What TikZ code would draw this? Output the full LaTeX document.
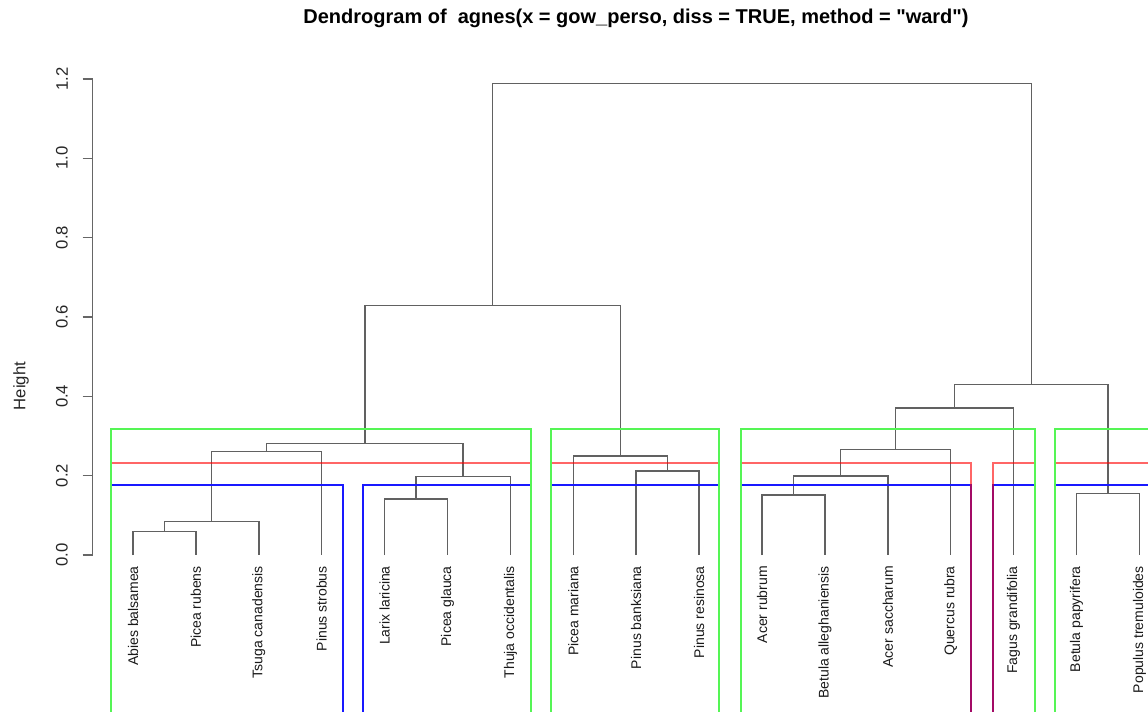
\documentclass[tikz,border=0pt]{standalone}
\usepackage{fontspec}
\setmainfont{Liberation Sans}
% a family without TeX ligatures, so that " stays a straight quote
\newfontfamily\plainsans{Liberation Sans}
% leaf index u -> horizontal position, height h -> vertical position (pixel grid, y downwards)
\newcommand{\lxpos}[1]{70.1+62.9*(#1)}
\newcommand{\hypos}[1]{555-396.7*(#1)}
\newcommand{\treept}[3]{\coordinate (#1) at ({\lxpos{#2}},{\hypos{#3}});}
% cluster rectangle, edges snapped to whole pixels
\newcommand{\cutbox}[4]{%
  \pgfmathsetmacro\cbl{2*round((\lxpos{#2}-1)/2)+1}%
  \pgfmathsetmacro\cbr{2*round((\lxpos{#3}-1)/2)+1}%
  \draw[#1] (\cbl,730) -- (\cbl,#4) -- (\cbr,#4) -- (\cbr,730);}
\definecolor{boxgreen}{RGB}{85,245,85}
\definecolor{boxblue}{RGB}{25,25,255}
\begin{document}
\begin{tikzpicture}[x=0.75pt,y=-0.75pt,
  branch/.style={draw=black!62, line width=1.15pt},
  leaflabel/.style={rotate=90, anchor=east, inner sep=0pt, text=black!90,
    font=\fontsize{10.5}{12}\selectfont},
  ticklabel/.style={rotate=90, anchor=center, inner sep=0pt, text=black!85,
    font=\fontsize{12.5}{14}\selectfont},
  axisline/.style={draw=black!60, line width=1pt},
  greenbox/.style={draw=boxgreen, line width=1.5pt},
  redbox/.style={draw=red, draw opacity=0.6, line width=1.5pt},
  bluebox/.style={draw=boxblue, line width=1.5pt}]
\useasboundingbox[fill=white] (0,0) rectangle (1148,712);

% title
\node[font=\plainsans\fontsize{15}{18}\selectfont\bfseries, inner sep=0pt] (title) at (636,18)
  {Dendrogram of\ \ agnes(x = gow\_perso, diss = TRUE, method = "ward")};

% height axis
\coordinate (ax0) at (92.7,{\hypos{0}});
\coordinate (ax1) at (92.7,{\hypos{1.2}});
\draw[axisline] (ax0) -- (ax1);
\foreach \v/\t in {0/0.0,0.2/0.2,0.4/0.4,0.6/0.6,0.8/0.8,1.0/1.0,1.2/1.2}{
  \draw[axisline] (82.7,{\hypos{\v}}) -- (92.7,{\hypos{\v}});
  \node[ticklabel] at (62,{\hypos{\v}}) {\t};
}
\node[rotate=90, inner sep=0pt, text=black!85, font=\fontsize{12.5}{14}\selectfont] (ylab) at (21,386) {Height};

% leaves
\foreach \i/\name in {1/Abies balsamea,2/Picea rubens,3/Tsuga canadensis,4/Pinus strobus,
  5/Larix laricina,6/Picea glauca,7/Thuja occidentalis,8/Picea mariana,9/Pinus banksiana,
  10/Pinus resinosa,11/Acer rubrum,12/Betula alleghaniensis,13/Acer saccharum,
  14/Quercus rubra,15/Fagus grandifolia,16/Betula papyrifera,17/Populus tremuloides}{
  \treept{L\i}{\i}{0}
  \node[leaflabel] (lab\i) at ({\lxpos{\i}},566) {\name};
}

% merge points: (name, mean position of children, height)
\treept{A}{1.5}{0.0588}
\treept{B}{2.25}{0.084}
\treept{C}{3.125}{0.261}
\treept{D}{5.5}{0.141}
\treept{E}{6.25}{0.198}
\treept{F}{4.6875}{0.2815}
\treept{G}{9.5}{0.212}
\treept{H}{8.75}{0.250}
\treept{I}{6.71875}{0.6285}
\treept{J}{11.5}{0.151}
\treept{K}{12.25}{0.199}
\treept{M}{13.125}{0.266}
\treept{N}{14.0625}{0.371}
\treept{P}{16.5}{0.155}
\treept{Q}{15.28125}{0.430}
\treept{R}{11}{1.189}

% branches
\draw[branch] (L1) |- (A) -| (L2);
\draw[branch] (A) |- (B) -| (L3);
\draw[branch] (B) |- (C) -| (L4);
\draw[branch] (L5) |- (D) -| (L6);
\draw[branch] (D) |- (E) -| (L7);
\draw[branch] (C) |- (F) -| (E);
\draw[branch] (L9) |- (G) -| (L10);
\draw[branch] (L8) |- (H) -| (G);
\draw[branch] (F) |- (I) -| (H);
\draw[branch] (L11) |- (J) -| (L12);
\draw[branch] (J) |- (K) -| (L13);
\draw[branch] (K) |- (M) -| (L14);
\draw[branch] (M) |- (N) -| (L15);
\draw[branch] (L16) |- (P) -| (L17);
\draw[branch] (N) |- (Q) -| (P);
\draw[branch] (I) |- (R) -| (Q);

% cluster rectangles (k = 6, 5, 4)
\cutbox{bluebox}{0.66}{4.33}{485}
\cutbox{bluebox}{4.66}{7.33}{485}
\cutbox{bluebox}{7.66}{10.33}{485}
\cutbox{bluebox}{10.66}{14.33}{485}
\cutbox{bluebox}{14.66}{15.33}{485}
\cutbox{bluebox}{15.66}{17.33}{485}
\cutbox{redbox}{0.66}{7.33}{463}
\cutbox{redbox}{7.66}{10.33}{463}
\cutbox{redbox}{10.66}{14.33}{463}
\cutbox{redbox}{14.66}{15.33}{463}
\cutbox{redbox}{15.66}{17.33}{463}
\cutbox{greenbox}{0.66}{7.33}{429}
\cutbox{greenbox}{7.66}{10.33}{429}
\cutbox{greenbox}{10.66}{15.33}{429}
\cutbox{greenbox}{15.66}{17.33}{429}
\end{tikzpicture}
\end{document}
